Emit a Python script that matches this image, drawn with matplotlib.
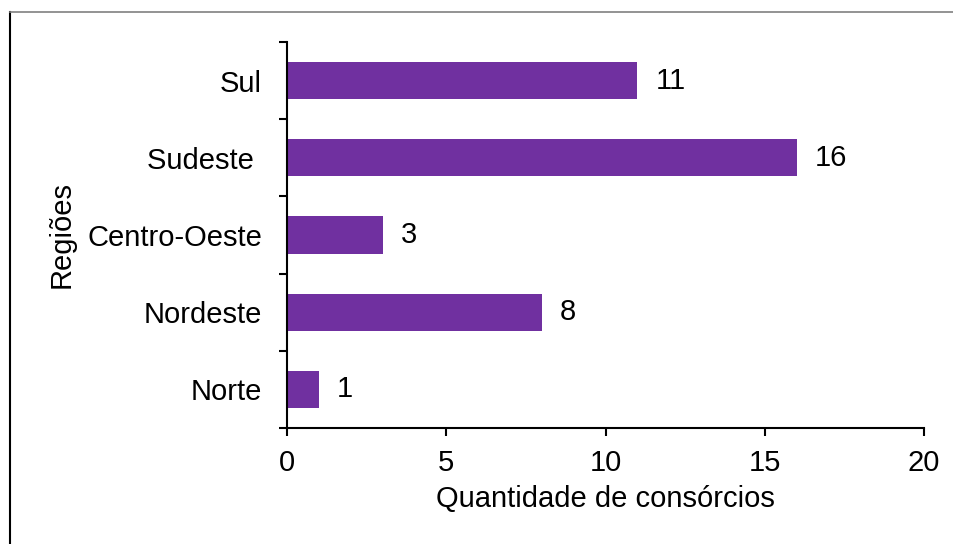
import matplotlib
matplotlib.use("Agg")
import matplotlib.pyplot as plt
from matplotlib.lines import Line2D
import numpy as np

categories = ["Norte", "Nordeste", "Centro-Oeste", "Sudeste ", "Sul"]
values = [1, 8, 3, 16, 11]
xticks = [0, 5, 10, 15, 20]

plt.rcParams['font.family'] = ['Liberation Sans', 'DejaVu Sans']
FS = 21

fig = plt.figure(figsize=(9.54, 5.44), dpi=100)
ax = fig.add_axes([287/954, 1-428/544, (924-287)/954, (428-42)/544])

y = np.arange(len(categories))
ax.barh(y, values, height=0.48, color="#7030A0")
for yi, v in zip(y, values):
    ax.annotate(str(v), (v, yi), xytext=(13, 0), textcoords="offset points",
                va="center", ha="left", fontsize=FS)

ax.set_xlim(0, 20)
ax.set_ylim(-0.5, len(categories) - 0.5)
ax.set_xticks(xticks)
ax.set_xticklabels([str(t) for t in xticks])
ax.set_yticks(y)
ax.set_yticklabels(categories)
ax.set_yticks(np.arange(-0.5, len(categories)), minor=True)
ax.tick_params(axis="y", which="major", length=0, pad=18, labelsize=FS)
ax.tick_params(axis="y", which="minor", length=6, width=1.5, direction="out")
ax.tick_params(axis="x", length=6, width=1.5, direction="out", pad=9, labelsize=FS)
for s in ["top", "right"]:
    ax.spines[s].set_visible(False)
for s in ["left", "bottom"]:
    ax.spines[s].set_linewidth(1.5)
ax.set_xlabel("Quantidade de consórcios", fontsize=FS, labelpad=6)
ax.set_ylabel("Regiões", fontsize=FS, labelpad=8)

fig.add_artist(Line2D([10/954, 10/954], [0, 1-12/544], transform=fig.transFigure, color="black", lw=1.5))
fig.add_artist(Line2D([10/954, 1], [1-12/544, 1-12/544], transform=fig.transFigure, color="#808080", lw=1.2))

fig.savefig("out.png", dpi=100)
